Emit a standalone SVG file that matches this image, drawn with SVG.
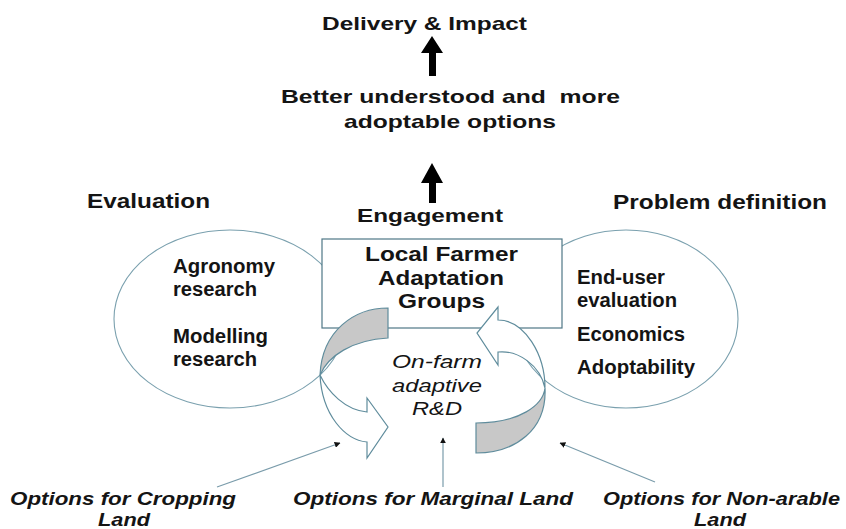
<svg xmlns="http://www.w3.org/2000/svg" width="846" height="529" viewBox="0 0 846 529">
<defs>
<style>
.b{font-family:"Liberation Sans",Arial,sans-serif;font-weight:bold;fill:#141414}
.i{font-family:"Liberation Sans",Arial,sans-serif;font-style:italic;fill:#141414}
.bi{font-family:"Liberation Sans",Arial,sans-serif;font-weight:bold;font-style:italic;fill:#141414}
.ol{fill:#fff;stroke:#7aa0ae;stroke-width:1.1}
.gr{fill:#c8c8c8;stroke:#5f8c9c;stroke-width:1.2}
.wa{fill:#fff;stroke:#5f8c9c;stroke-width:1.2}
.ptr{stroke:#7a9cab;stroke-width:1.2;fill:none;marker-end:url(#ah)}
.big{fill:#000}
</style>
<marker id="ah" viewBox="0 0 10 10" refX="9" refY="5" markerWidth="5" markerHeight="5" orient="auto" markerUnits="strokeWidth">
<path d="M0,0 L10,5 L0,10 Z" fill="#111"/>
</marker>
</defs>
<rect width="846" height="529" fill="#fff"/>

<g id="delivery">
<text class="b" x="322" y="30" font-size="19" textLength="205" lengthAdjust="spacingAndGlyphs">Delivery &amp; Impact</text>
</g>
<g id="options">
<text class="b" x="281" y="103" font-size="19" textLength="339" lengthAdjust="spacingAndGlyphs" style="white-space:pre">Better understood and  more</text>
<text class="b" x="344" y="128" font-size="19" textLength="212" lengthAdjust="spacingAndGlyphs">adoptable options</text>
</g>
<g id="engagement">
<text class="b" x="357" y="222" font-size="19" textLength="146" lengthAdjust="spacingAndGlyphs">Engagement</text>
</g>
<g id="evaluation-title">
<text class="b" x="87" y="208" font-size="19.5" textLength="123" lengthAdjust="spacingAndGlyphs">Evaluation</text>
</g>
<g id="problem-title">
<text class="b" x="613" y="209" font-size="19.5" textLength="214" lengthAdjust="spacingAndGlyphs">Problem definition</text>
</g>

<g id="evaluation">
<ellipse class="ol" cx="230" cy="319" rx="116" ry="89"/>
<text class="b" x="173" y="273" font-size="19.5" textLength="102" lengthAdjust="spacingAndGlyphs">Agronomy</text>
<text class="b" x="173" y="296" font-size="19.5" textLength="84" lengthAdjust="spacingAndGlyphs">research</text>
<text class="b" x="173" y="343" font-size="19.5" textLength="95" lengthAdjust="spacingAndGlyphs">Modelling</text>
<text class="b" x="173" y="366" font-size="19.5" textLength="84" lengthAdjust="spacingAndGlyphs">research</text>
</g>

<g id="problem-definition">
<ellipse class="ol" cx="626" cy="319" rx="112" ry="89"/>
<text class="b" x="577" y="284" font-size="19.5" textLength="88" lengthAdjust="spacingAndGlyphs">End-user</text>
<text class="b" x="577" y="307" font-size="19.5" textLength="100" lengthAdjust="spacingAndGlyphs">evaluation</text>
<text class="b" x="577" y="341" font-size="19.5" textLength="108" lengthAdjust="spacingAndGlyphs">Economics</text>
<text class="b" x="577" y="374" font-size="19.5" textLength="118" lengthAdjust="spacingAndGlyphs">Adoptability</text>
</g>

<g id="farmer-groups">
<rect x="322" y="239" width="240" height="89" fill="#fff" stroke="#4f7786" stroke-width="1.2"/>
<text class="b" x="365" y="261" font-size="20" textLength="153" lengthAdjust="spacingAndGlyphs">Local Farmer</text>
<text class="b" x="378" y="285" font-size="20" textLength="126" lengthAdjust="spacingAndGlyphs">Adaptation</text>
<text class="b" x="398" y="308" font-size="20" textLength="87" lengthAdjust="spacingAndGlyphs">Groups</text>
</g>

<g id="cycle-arrows">
<path class="gr" d="M388,308 C355,308 322,330 320,375 C328,356 352,340 388,338 Z"/>
<path class="wa" d="M320,375 C328,392 345,410 367,412 L367,398 L388,427 L367,458 L367,442 C345,440 322,415 320,375 Z"/>
<path class="wa" d="M545,388 C545,355 525,320 498,320 L498,307 L477,333 L498,365 L498,352 C518,350 540,365 545,388 Z"/>
<path class="gr" d="M545,388 C543,405 520,423 476,423 L476,453 C515,453 547,430 545,388 Z"/>
</g>

<g id="on-farm">
<text class="i" x="392" y="368" font-size="17.5" textLength="90" lengthAdjust="spacingAndGlyphs">On-farm</text>
<text class="i" x="392" y="392" font-size="17.5" textLength="90" lengthAdjust="spacingAndGlyphs">adaptive</text>
<text class="i" x="412" y="415" font-size="17.5" textLength="50" lengthAdjust="spacingAndGlyphs">R&amp;D</text>
</g>

<g id="connectors">
<path class="big" d="M432,36 L443,53 L436,53 L436,76 L429,76 L429,53 L421,53 Z"/>
<path class="big" d="M432,163 L443,183 L436,183 L436,203 L429,203 L429,183 L421,183 Z"/>
<line class="ptr" x1="217" y1="487" x2="340" y2="443"/>
<line class="ptr" x1="443" y1="487" x2="443" y2="438"/>
<line class="ptr" x1="655" y1="482" x2="560" y2="443"/>
</g>

<g id="cropping">
<text class="bi" x="10" y="505" font-size="19" textLength="226" lengthAdjust="spacingAndGlyphs">Options for Cropping</text>
<text class="bi" x="98" y="526" font-size="19" textLength="52" lengthAdjust="spacingAndGlyphs">Land</text>
</g>
<g id="marginal">
<text class="bi" x="293" y="505" font-size="19" textLength="280" lengthAdjust="spacingAndGlyphs">Options for Marginal Land</text>
</g>
<g id="non-arable">
<text class="bi" x="603" y="505" font-size="19" textLength="237" lengthAdjust="spacingAndGlyphs">Options for Non-arable</text>
<text class="bi" x="694" y="526" font-size="19" textLength="52" lengthAdjust="spacingAndGlyphs">Land</text>
</g>
</svg>
